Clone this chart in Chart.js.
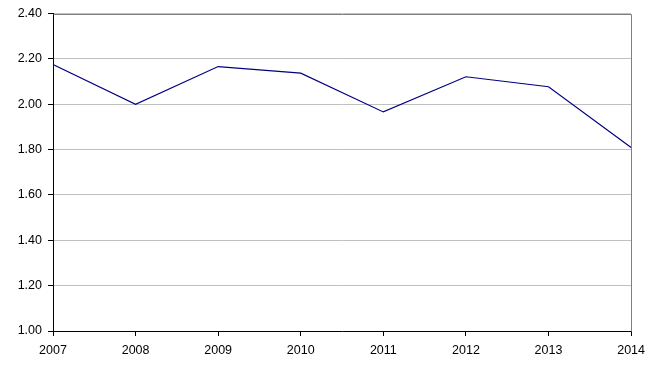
<!DOCTYPE html>
<html>
<head>
<meta charset="utf-8">
<script src="https://cdn.jsdelivr.net/npm/chart.js@4"></script>
<style>
  html, body { margin: 0; padding: 0; background: #fff; }
  #wrap { width: 652px; height: 370px; }
</style>
</head>
<body>
<div id="wrap"><canvas id="myChart"></canvas></div>
<script>
const years = ['2007', '2008', '2009', '2010', '2011', '2012', '2013', '2014']
const values = [2.175, 2.00, 2.166, 2.137, 1.966, 2.121, 2.077, 1.809]
const yMin = 1.0
const yMax = 2.4
const yStep = 0.2

// grey frame on top and right of the plot area
const frame = {
    id: 'frame',
    afterDraw: (chart) => {
        const a = chart.chartArea
        const c = chart.ctx
        c.save()
        c.strokeStyle = '#808080'
        c.lineWidth = 1
        c.beginPath()
        c.moveTo(Math.round(a.left) + 0.5, Math.round(a.top) + 0.5)
        c.lineTo(Math.round(a.right) + 0.5, Math.round(a.top) + 0.5)
        c.lineTo(Math.round(a.right) + 0.5, Math.round(a.bottom) + 0.5)
        c.stroke()
        c.restore()
    }
}

const ctx = document.getElementById('myChart')
new Chart(ctx, {
    type: 'line',
    data: {
        labels: years,
        datasets: [{
            data: values,
            borderColor: '#000080',
            borderWidth: 1.2,
            pointRadius: 0,
            tension: 0,
            fill: false
        }]
    },
    options: {
        responsive: true,
        maintainAspectRatio: false,
        animation: false,
        layout: {
            padding: { left: 0, right: 18, top: 13, bottom: 0 }
        },
        plugins: {
            legend: { display: false },
            tooltip: { enabled: false }
        },
        scales: {
            x: {
                offset: false,
                afterFit: (scale) => { scale.height = 39 },
                grid: {
                    drawOnChartArea: false,
                    drawTicks: true,
                    tickLength: 5,
                    tickColor: '#000'
                },
                border: { display: true, color: '#000', width: 1 },
                ticks: {
                    color: '#000',
                    padding: 7,
                    maxRotation: 0,
                    font: { family: 'Liberation Sans, Arial', size: 12.5 }
                }
            },
            y: {
                min: yMin,
                max: yMax,
                afterFit: (scale) => { scale.width = 53 },
                grid: {
                    color: '#c0c0c0',
                    drawTicks: true,
                    tickLength: 5,
                    tickColor: '#000'
                },
                border: { display: true, color: '#000', width: 1 },
                ticks: {
                    stepSize: yStep,
                    color: '#000',
                    padding: 6,
                    font: { family: 'Liberation Sans, Arial', size: 12.5 },
                    callback: (v) => v.toFixed(2)
                }
            }
        }
    },
    plugins: [frame]
});
</script>
</body>
</html>
